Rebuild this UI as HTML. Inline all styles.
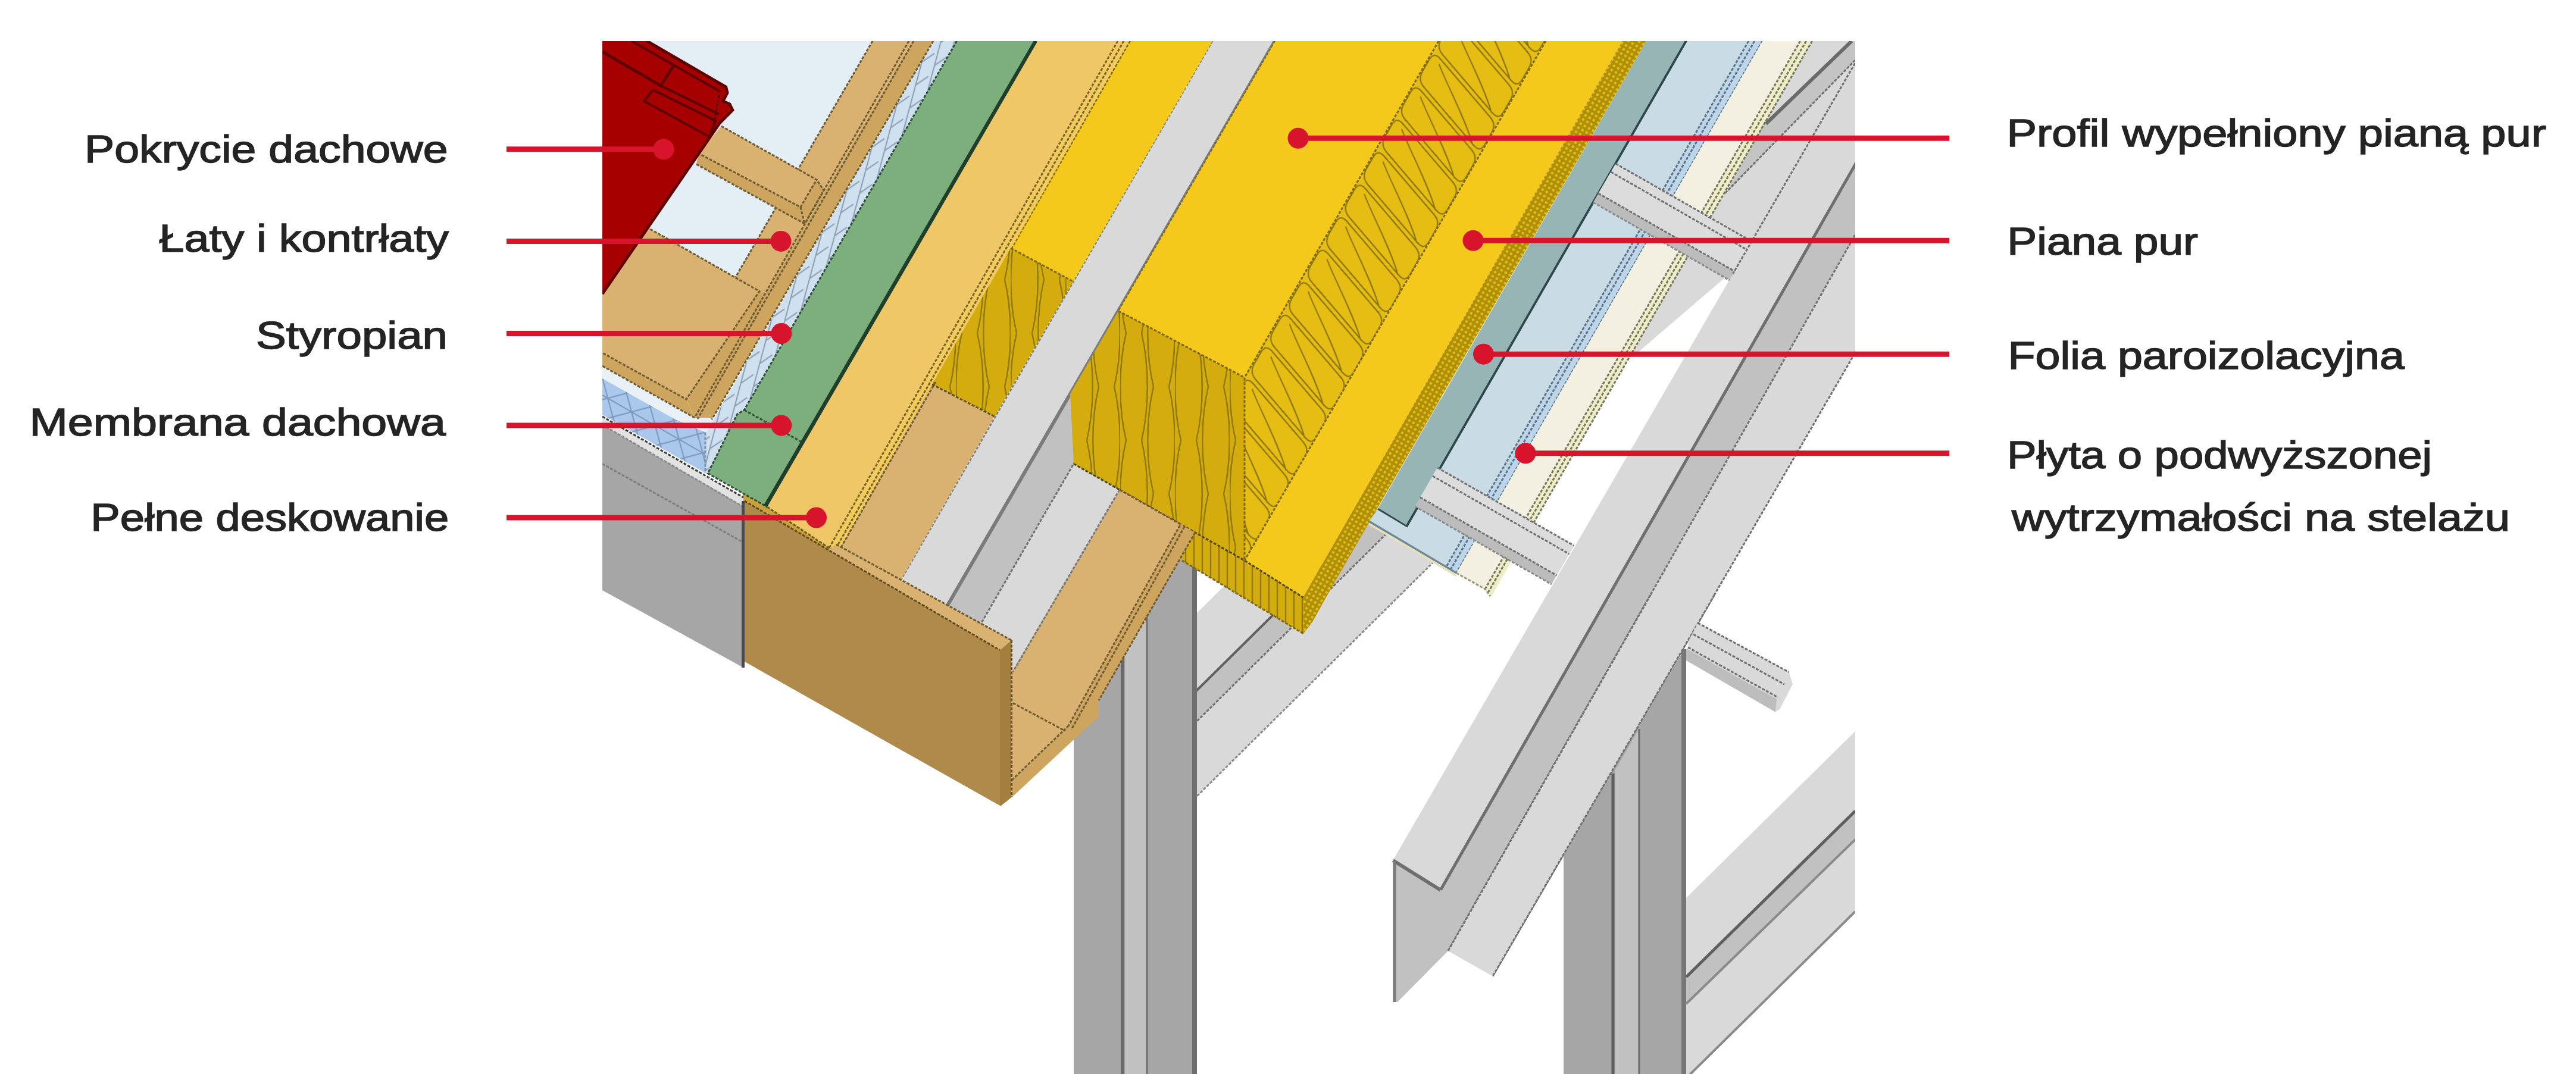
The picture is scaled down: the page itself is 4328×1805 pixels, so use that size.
<!DOCTYPE html>
<html lang="pl"><head><meta charset="utf-8"><title>Przekrój dachu</title>
<style>
html,body{margin:0;padding:0;background:#fff;}
body{width:4328px;height:1805px;overflow:hidden;position:relative;}
svg{position:absolute;left:0;top:0;display:block;}
text{font-family:"Liberation Sans",sans-serif;font-size:65px;fill:#242424;stroke:#242424;stroke-width:1.5px;}
.ld line{stroke:#d8142c;stroke-width:9;}
.ld circle{fill:#d8142c;}
</style></head><body>
<svg width="4328" height="1805" viewBox="0 0 4328 1805">
<defs>
<clipPath id="cp"><rect x="1012" y="69" width="2105" height="1736"/></clipPath>

<pattern id="hY" x="2129.7" y="0" width="156.0" height="63" patternUnits="userSpaceOnUse" patternTransform="rotate(29.9)"><path d="M2.0,-102.0 Q2.0,-118.0 17.1,-112.6 L139.0,-69.4 Q154.0,-64.0 154.0,-48.0 L154.0,-25.0 Q154.0,-9.0 139.0,-14.4 L17.1,-57.6 Q2.0,-63.0 2.0,-79.0 Z M20,-104.0 C40,-86.0 105,-46.0 137.0,-14.0 M2.0,-39.0 Q2.0,-55.0 17.1,-49.6 L139.0,-6.4 Q154.0,-1.0 154.0,15.0 L154.0,38.0 Q154.0,54.0 139.0,48.6 L17.1,5.4 Q2.0,0.0 2.0,-16.0 Z M20,-41.0 C40,-23.0 105,17.0 137.0,49.0 M2.0,24.0 Q2.0,8.0 17.1,13.4 L139.0,56.6 Q154.0,62.0 154.0,78.0 L154.0,101.0 Q154.0,117.0 139.0,111.6 L17.1,68.4 Q2.0,63.0 2.0,47.0 Z M20,22.0 C40,40.0 105,80.0 137.0,112.0 M2.0,87.0 Q2.0,71.0 17.1,76.4 L139.0,119.6 Q154.0,125.0 154.0,141.0 L154.0,164.0 Q154.0,180.0 139.0,174.6 L17.1,131.4 Q2.0,126.0 2.0,110.0 Z M20,85.0 C40,103.0 105,143.0 137.0,175.0" stroke="#8a7410" stroke-width="2.2" fill="none"/></pattern>
<pattern id="hD" x="1790" y="560" width="92" height="180" patternUnits="userSpaceOnUse">
<path d="M10,-180 C-3,-125 -3,-55 10,0 M36,-180 C49,-125 49,-55 36,0 M10,0 C-3,55 -3,125 10,180 M36,0 C49,55 49,125 36,180 M10,180 C-3,235 -3,305 10,360 M36,180 C49,235 49,305 36,360 M56,-90 C43,-35 43,35 56,90 M82,-90 C95,-35 95,35 82,90 M56,90 C43,145 43,215 56,270 M82,90 C95,145 95,215 82,270 M56,270 C43,325 43,395 56,450 M82,270 C95,325 95,395 82,450" stroke="#8f790c" stroke-width="2.4" fill="none"/>
</pattern>
<pattern id="hV" width="14" height="14" patternUnits="userSpaceOnUse">
<path d="M4,0 V14" stroke="#8f790c" stroke-width="2.4" fill="none"/>
</pattern>
<pattern id="hDot" width="8" height="8" patternUnits="userSpaceOnUse" patternTransform="rotate(30)">
<rect width="8" height="8" fill="#b08f08"/><circle cx="4" cy="4" r="2.3" fill="#e3bd18"/>
</pattern>
<pattern id="hS" width="22" height="40" patternUnits="userSpaceOnUse" patternTransform="rotate(15)">
<path d="M5,0 V40 M5,20 L22,0" stroke="#8fa2b4" stroke-width="2.2" fill="none"/>
</pattern>
<pattern id="hSE" width="46" height="46" patternUnits="userSpaceOnUse" patternTransform="rotate(30)">
<path d="M0,0 L46,46 M46,0 L0,46 M0,23 H46" stroke="#7d98bb" stroke-width="2.2" fill="none"/>
</pattern>

</defs>
<g clip-path="url(#cp)">
<polygon points="3044.6,69.0 3117.0,69.0 3117.0,470.0 2900.0,465.0 2752.0,592.0 2735.2,600.0" fill="#d9d9d9" />
<polygon points="3108.0,69.0 3117.0,69.0 3117.0,101.0 2899.0,326.0 2965.0,207.0" fill="#c4c4c4" />
<polyline points="3111.0,69.0 2967.0,208.0" fill="none" stroke="#6a6a6a" stroke-width="6" />
<polyline points="3117.0,101.0 2897.0,326.0" fill="none" stroke="#6f6f6f" stroke-width="3.0" stroke-dasharray="5 2.5"/>
<polygon points="3138.2,69.0 3235.6,69.0 2420.5,1495.5 2340.5,1445.5" fill="#d9d9d9" />
<polygon points="3235.6,69.0 3301.9,69.0 2433.0,1598.0 2348.0,1684.0 2340.5,1684.0 2340.5,1447.0 2420.5,1497.0" fill="#c1c1c1" />
<polygon points="3301.9,69.0 3421.3,69.0 2508.0,1640.5 2433.0,1598.0" fill="#d9d9d9" />
<polyline points="3301.9,69.0 2433.0,1598.0" fill="none" stroke="#6f6f6f" stroke-width="3" stroke-dasharray="5 2.5"/>
<polyline points="3421.3,69.0 2508.0,1640.5" fill="none" stroke="#6f6f6f" stroke-width="3" stroke-dasharray="5 2.5"/>
<polyline points="3235.6,69.0 2420.5,1495.5" fill="none" stroke="#6f6f6f" stroke-width="5" />
<polyline points="2340.5,1446.0 2420.5,1496.0" fill="none" stroke="#6f6f6f" stroke-width="6" />
<polyline points="2343.0,1447.0 2343.0,1684.0" fill="none" stroke="#7a7a7a" stroke-width="5" />
<polygon points="2627.0,1436.0 2627.0,1810.0 2833.0,1810.0 2833.0,1091.0 2829.6,1091.0" fill="#a6a6a6" />
<polygon points="2713.0,1295.0 2752.0,1228.0 2752.0,1810.0 2713.0,1810.0" fill="#c1c1c1" />
<polyline points="2710.0,1300.0 2710.0,1810.0" fill="none" stroke="#5f5f5f" stroke-width="5" />
<polyline points="2754.0,1225.0 2754.0,1810.0" fill="none" stroke="#6f6f6f" stroke-width="3"  />
<polyline points="2829.0,1091.0 2829.0,1810.0" fill="none" stroke="#767676" stroke-width="8" />
<polygon points="2833.0,1509.0 3117.0,1229.0 3117.0,1532.0 2833.0,1812.0" fill="#d9d9d9" />
<polygon points="2833.0,1642.0 3117.0,1363.0 3117.0,1411.0 2833.0,1687.0" fill="#c1c1c1" />
<polyline points="2833.0,1642.0 3117.0,1363.0" fill="none" stroke="#5f5f5f" stroke-width="5" />
<polyline points="2833.0,1687.0 3117.0,1411.0" fill="none" stroke="#8a8a8a" stroke-width="4" />
<polyline points="2833.0,1812.0 3117.0,1532.0" fill="none" stroke="#8a8a8a" stroke-width="4" />
<polygon points="2773.1,1000.0 2880.4,1000.0 2508.0,1640.5 2433.0,1598.0" fill="#d9d9d9" />
<polyline points="2773.1,1000.0 2433.0,1598.0" fill="none" stroke="#6f6f6f" stroke-width="3" stroke-dasharray="5 2.5"/>
<polyline points="2880.4,1000.0 2508.0,1640.5" fill="none" stroke="#6f6f6f" stroke-width="3" stroke-dasharray="5 2.5"/>
<polygon points="2852.6,1047.0 3005.7,1129.6 3012.0,1150.0 2990.0,1192.0 2982.7,1196.6 2833.0,1106.7 2838.0,1075.0" fill="#d9d9d9" />
<polygon points="2833.0,1090.0 2985.0,1175.0 2982.7,1196.6 2833.0,1110.0" fill="#bdbdbd" />
<polyline points="2852.6,1047.0 3005.7,1129.6" fill="none" stroke="#6f6f6f" stroke-width="3.0" stroke-dasharray="5 2.5"/>
<polyline points="2845.0,1066.0 2998.0,1150.0" fill="none" stroke="#6f6f6f" stroke-width="3.0" stroke-dasharray="5 2.5"/>
<polyline points="2836.0,1088.0 2987.0,1172.0" fill="none" stroke="#6f6f6f" stroke-width="3.0" stroke-dasharray="5 2.5"/>
<polygon points="2006.0,1035.0 2420.0,625.1 2420.0,933.1 2006.0,1343.0" fill="#d9d9d9" />
<polygon points="2006.0,1165.0 2420.0,755.1 2420.0,807.1 2006.0,1217.0" fill="#c1c1c1" />
<polyline points="2006.0,1165.0 2420.0,755.1" fill="none" stroke="#5f5f5f" stroke-width="4" />
<polyline points="2006.0,1217.0 2420.0,807.1" fill="none" stroke="#6f6f6f" stroke-width="3" stroke-dasharray="5 2.5"/>
<polyline points="2006.0,1343.0 2420.0,933.1" fill="none" stroke="#8a8a8a" stroke-width="3" stroke-dasharray="5 2.5"/>
<polygon points="1804.0,700.0 2008.0,700.0 2008.0,1810.0 1804.0,1810.0" fill="#a6a6a6" />
<polygon points="1890.0,700.0 1925.0,700.0 1925.0,1810.0 1890.0,1810.0" fill="#c1c1c1" />
<polyline points="1886.0,700.0 1886.0,1810.0" fill="none" stroke="#6a6a6a" stroke-width="6" />
<polyline points="1927.0,700.0 1927.0,1810.0" fill="none" stroke="#6f6f6f" stroke-width="3"  />
<polyline points="2007.0,700.0 2007.0,1810.0" fill="none" stroke="#6f6f6f" stroke-width="8" />
<polygon points="2037.0,69.0 2142.0,69.0 1576.5,1044.0 1499.5,999.0" fill="#d9d9d9" />
<polygon points="1892.0,500.0 1966.0,500.0 1631.7,1076.4 1576.5,1044.0" fill="#c1c1c1" />
<polygon points="1966.0,500.0 2073.0,500.0 1700.0,1140.0 1700.0,1104.4 1631.7,1076.4" fill="#d9d9d9" />
<polyline points="2037.0,69.0 1504.7,990.0" fill="none" stroke="#7d7d7d" stroke-width="3" stroke-dasharray="5 2.5"/>
<polyline points="2142.0,69.0 1581.7,1035.1" fill="none" stroke="#7b7b7b" stroke-width="6" />
<polyline points="1908.0,600.0 1636.9,1067.4" fill="none" stroke="#6f6f6f" stroke-width="3" stroke-dasharray="5 2.5"/>
<polygon points="1012.0,69.0 1480.0,69.0 1150.0,650.0 1012.0,650.0" fill="#e3eef5" />
<polygon points="1466.0,69.0 1533.0,69.0 1200.7,640.0 1134.8,640.0" fill="#d9b272" />
<polygon points="1533.0,69.0 1568.0,69.0 1197.7,702.0 1164.6,702.0" fill="#cda55f" />
<polyline points="1466.0,69.0 1235.2,467.0" fill="none" stroke="#6e5a33" stroke-width="3.0" stroke-dasharray="5 2.5"/>
<polygon points="1012.0,636.0 1135.0,705.0 1187.0,727.0 1187.0,796.0 1012.0,697.0" fill="#a9c8ec" />
<polygon points="1012.0,636.0 1135.0,705.0 1187.0,727.0 1187.0,796.0 1012.0,697.0" fill="url(#hSE)" />
<polygon points="1568.0,69.0 1607.5,69.0 1250.4,689.0 1238.4,696.4 1189.3,797.0 1185.0,794.0 1185.0,727.0 1200.0,703.0" fill="#cfe0f1" />
<polygon points="1568.0,69.0 1607.5,69.0 1250.4,689.0 1238.4,696.4 1189.3,797.0 1185.0,794.0 1185.0,727.0 1200.0,703.0" fill="url(#hS)" />
<polyline points="1185.0,727.0 1185.0,794.0" fill="none" stroke="#7f93a8" stroke-width="3" stroke-dasharray="5 2.5"/>
<polygon points="1012.0,614.0 1166.0,702.0 1201.0,702.0 1187.0,727.0 1135.0,705.0 1012.0,636.0" fill="#e9f1f7" />
<polygon points="1012.0,340.0 1092.5,385.0 1276.0,489.5 1153.0,671.0 1012.0,593.0" fill="#d9b272" />
<polygon points="1012.0,593.0 1153.0,671.0 1167.0,702.0 1012.0,615.0" fill="#cda55f" />
<polygon points="1276.0,489.5 1288.0,494.0 1167.0,702.0 1153.0,671.0" fill="#cda55f" />
<polyline points="1092.5,385.0 1276.0,489.5 1153.0,671.0 1012.0,593.0" fill="none" stroke="#6e5a33" stroke-width="3.0" stroke-dasharray="5 2.5"/>
<polyline points="1167.0,702.0 1012.0,615.0" fill="none" stroke="#6e5a33" stroke-width="3.0" stroke-dasharray="5 2.5"/>
<polygon points="1212.0,212.0 1372.0,302.0 1345.0,348.0 1174.0,258.0" fill="#d9b272" />
<polygon points="1174.0,258.0 1345.0,348.0 1352.0,376.0 1170.0,276.0" fill="#cda55f" />
<polygon points="1345.0,348.0 1372.0,302.0 1384.0,320.0 1356.0,372.0" fill="#cda55f" />
<polyline points="1212.0,212.0 1372.0,302.0 1345.0,348.0 1174.0,258.0" fill="none" stroke="#6e5a33" stroke-width="3.0" stroke-dasharray="5 2.5"/>
<polyline points="1170.0,276.0 1352.0,376.0 1384.0,320.0 1372.0,302.0" fill="none" stroke="#6e5a33" stroke-width="3.0" stroke-dasharray="5 2.5"/>
<polyline points="1345.0,348.0 1352.0,376.0" fill="none" stroke="#6e5a33" stroke-width="3.0" stroke-dasharray="5 2.5"/>
<polyline points="1527.0,69.0 1167.0,702.0" fill="none" stroke="#6e5a33" stroke-width="3.0" stroke-dasharray="5 2.5"/>
<polyline points="1535.0,69.0 1172.0,704.0" fill="none" stroke="#6e5a33" stroke-width="3.0" stroke-dasharray="5 2.5"/>
<polyline points="1568.0,69.0 1195.9,705.0" fill="none" stroke="#6e5a33" stroke-width="3.0" stroke-dasharray="5 2.5"/>
<polygon points="1012.0,69.0 1087.0,69.0 1219.6,146.0 1222.0,156.0 1214.6,170.0 1225.8,175.0 1230.8,185.0 1209.0,207.0 1012.0,494.0" fill="#a60000" />
<polyline points="1087.0,69.0 1219.6,146.0 1222.0,156.0 1214.6,170.0 1225.8,175.0 1230.8,185.0 1209.0,207.0 1012.0,494.0" fill="none" stroke="#5c0000" stroke-width="5" />
<polyline points="1061.0,69.0 1210.0,154.0" fill="none" stroke="#5c0000" stroke-width="4" />
<polyline points="1012.0,87.0 1110.0,144.0 1132.0,110.0" fill="none" stroke="#5c0000" stroke-width="5" />
<polyline points="1097.0,151.0 1202.0,203.0 1192.0,230.0 1082.0,170.0 1097.0,151.0" fill="none" stroke="#5c0000" stroke-width="4" />
<polyline points="1110.0,144.0 1208.0,192.0" fill="none" stroke="#5c0000" stroke-width="4" />
<polyline points="1208.0,160.0 1196.0,226.0" fill="none" stroke="#5c0000" stroke-width="3" stroke-dasharray="5 2.5"/>
<polygon points="1248.0,824.0 1415.0,920.0 1415.0,945.0 1248.0,850.0" fill="#c9a23a" />
<polygon points="1607.5,69.0 1743.5,69.0 1289.0,852.0 1189.3,795.6 1238.4,696.4 1250.4,689.0" fill="#7dae7d" />
<polyline points="1607.5,69.0 1250.4,689.0 1238.4,696.4 1189.3,795.6 1289.0,852.0" fill="none" stroke="#2d5137" stroke-width="3" stroke-dasharray="5 2.5"/>
<polyline points="1250.4,689.0 1349.0,744.0" fill="none" stroke="#2d5137" stroke-width="3" stroke-dasharray="5 2.5"/>
<polyline points="1740.5,69.0 1286.0,851.0" fill="none" stroke="#1f3f2a" stroke-width="7" />
<polygon points="1743.5,69.0 1878.0,69.0 1393.0,921.0 1289.0,852.0" fill="#f0c766" />
<polygon points="1878.0,69.0 1899.0,69.0 1415.0,917.0 1407.0,925.5 1393.0,921.0" fill="#f2cb5e" />
<polyline points="1878.0,69.0 1393.0,921.0" fill="none" stroke="#7a6325" stroke-width="3.0" stroke-dasharray="5 2.5"/>
<polyline points="1888.0,69.0 1403.0,924.0" fill="none" stroke="#7a6325" stroke-width="3.0" stroke-dasharray="5 2.5"/>
<polyline points="1899.0,69.0 1415.0,917.0" fill="none" stroke="#7a6325" stroke-width="3.0" stroke-dasharray="5 2.5"/>
<polyline points="1289.0,852.0 1393.0,921.0 1407.0,925.5" fill="none" stroke="#6a5a25" stroke-width="3" stroke-dasharray="5 2.5"/>
<polygon points="1899.0,69.0 2037.0,69.0 1803.0,473.0 1698.0,417.0" fill="#f5c91b" />
<polygon points="1698.0,417.0 1803.0,473.0 1671.0,700.0 1566.0,646.0" fill="#d4ac0d" />
<polygon points="1698.0,417.0 1803.0,473.0 1671.0,700.0 1566.0,646.0" fill="url(#hD)" />
<polygon points="1566.0,646.0 1671.0,700.0 1499.5,999.0 1401.0,941.2" fill="#d9b272" />
<polyline points="1698.0,417.0 1803.0,473.0" fill="none" stroke="#7d6a10" stroke-width="3.0" stroke-dasharray="5 2.5"/>
<polyline points="1566.0,646.0 1671.0,700.0" fill="none" stroke="#5d5122" stroke-width="3" stroke-dasharray="5 2.5"/>
<polyline points="1571.8,642.0 1406.1,932.2" fill="none" stroke="#6e5a33" stroke-width="3.0" stroke-dasharray="5 2.5"/>
<polygon points="2142.0,69.0 2417.0,69.0 2091.0,634.5 1879.0,522.5" fill="#f5c91b" />
<polygon points="2417.0,69.0 2597.0,69.0 2091.0,942.0 2091.0,634.5" fill="#e6bd12" />
<polygon points="2417.0,69.0 2597.0,69.0 2091.0,942.0 2091.0,634.5" fill="url(#hY)" />
<polygon points="2597.0,69.0 2725.5,69.0 2189.4,1004.0 2091.0,942.0" fill="#f5c91b" />
<polygon points="2725.5,69.0 2766.0,69.0 2234.0,993.0 2205.0,1045.0 2190.0,1065.0 2189.4,1004.0" fill="url(#hDot)" />
<polygon points="1879.0,522.5 2091.0,634.5 2091.0,942.0 1804.0,779.5 1798.0,662.0" fill="#d4ac0d" />
<polygon points="1879.0,522.5 2091.0,634.5 2091.0,942.0 1804.0,779.5 1798.0,662.0" fill="url(#hD)" />
<polygon points="1986.0,882.0 2091.0,942.0 2189.4,1004.0 2190.0,1065.0 1986.0,942.0" fill="#d4ac0d" />
<polygon points="1986.0,882.0 2091.0,942.0 2189.4,1004.0 2190.0,1065.0 1986.0,942.0" fill="url(#hV)" />
<polyline points="1879.0,522.5 2091.0,634.5 2091.0,942.0" fill="none" stroke="#7d6a10" stroke-width="3" stroke-dasharray="5 2.5"/>
<polyline points="1804.0,779.5 2091.0,942.0 2189.4,1004.0" fill="none" stroke="#4f4510" stroke-width="3" stroke-dasharray="5 2.5"/>
<polyline points="1986.0,942.0 2190.0,1065.0" fill="none" stroke="#7d6a10" stroke-width="3.0" stroke-dasharray="5 2.5"/>
<polyline points="2417.0,69.0 2091.0,634.5" fill="none" stroke="#7d6a10" stroke-width="3.0" stroke-dasharray="5 2.5"/>
<polyline points="2597.0,69.0 2091.0,942.0" fill="none" stroke="#7d6a10" stroke-width="3.0" stroke-dasharray="5 2.5"/>
<polyline points="1899.0,69.0 1700.3,417.0" fill="none" stroke="#7d6a10" stroke-width="2" stroke-dasharray="5 2.5"/>
<polyline points="2142.0,69.0 1879.3,522.0" fill="none" stroke="#7d6a10" stroke-width="2" stroke-dasharray="5 2.5"/>
<polygon points="2766.0,69.0 2835.0,69.0 2364.4,886.4 2314.3,856.5" fill="#97b5b5" />
<polyline points="2834.0,69.0 2363.4,886.4 2314.3,856.5" fill="none" stroke="#2f474c" stroke-width="6" />
<polygon points="2835.0,69.0 2961.2,69.0 2447.0,963.0 2300.0,876.0 2314.3,856.5 2364.4,886.4" fill="#c9dce6" />
<polygon points="2937.8,69.0 2961.2,69.0 2447.0,963.0 2429.7,952.7" fill="#bdd5e8" />
<polyline points="2937.8,69.0 2429.7,952.7" fill="none" stroke="#5b7384" stroke-width="3.0" stroke-dasharray="5 2.5"/>
<polyline points="2947.8,69.0 2437.2,957.2" fill="none" stroke="#5b7384" stroke-width="3.0" stroke-dasharray="5 2.5"/>
<polyline points="2961.2,69.0 2447.0,963.0" fill="none" stroke="#5b6f7a" stroke-width="3.0" stroke-dasharray="5 2.5"/>
<polyline points="2300.0,876.0 2447.0,963.0" fill="none" stroke="#6f8797" stroke-width="3.2" />
<polyline points="2300.0,880.5 2447.0,967.5" fill="none" stroke="#e6e0b8" stroke-width="3.2" />
<polygon points="2961.2,69.0 3024.6,69.0 2495.0,990.0 2447.0,963.0" fill="#f3f0e1" />
<polygon points="3024.6,69.0 3044.6,69.0 2540.0,942.0 2506.0,1002.0 2495.0,990.0" fill="#efecc8" />
<polyline points="3024.6,69.0 2495.0,990.0" fill="none" stroke="#75755f" stroke-width="3.0" stroke-dasharray="5 2.5"/>
<polyline points="3034.6,69.0 2500.0,996.0" fill="none" stroke="#75755f" stroke-width="3.0" stroke-dasharray="5 2.5"/>
<polyline points="3044.6,69.0 2540.0,942.0" fill="none" stroke="#75755f" stroke-width="3.0" stroke-dasharray="5 2.5"/>
<polyline points="2447.0,963.0 2495.0,990.0 2504.0,1002.0" fill="none" stroke="#9a9a70" stroke-width="3.0" stroke-dasharray="5 2.5"/>
<polygon points="2714.5,275.0 2943.5,406.0 2905.8,471.0 2676.8,340.0" fill="#bcbcbc" />
<polygon points="2714.5,275.0 2943.5,406.0 2914.5,456.0 2685.5,325.0" fill="#dcdcdc" />
<polyline points="2714.5,275.0 2943.5,406.0" fill="none" stroke="#6f6f6f" stroke-width="3.0" stroke-dasharray="5 2.5"/>
<polyline points="2706.5,289.0 2935.5,420.0" fill="none" stroke="#6f6f6f" stroke-width="3.0" stroke-dasharray="5 2.5"/>
<polyline points="2685.5,325.0 2914.5,456.0" fill="none" stroke="#6f6f6f" stroke-width="3.0" stroke-dasharray="5 2.5"/>
<polyline points="2676.8,340.0 2905.8,471.0" fill="none" stroke="#8a8a8a" stroke-width="3.0" stroke-dasharray="5 2.5"/>
<polygon points="2415.0,786.0 2644.5,917.0 2606.8,982.0 2377.3,851.0" fill="#bcbcbc" />
<polygon points="2415.0,786.0 2644.5,917.0 2615.5,967.0 2386.0,836.0" fill="#dcdcdc" />
<polyline points="2415.0,786.0 2644.5,917.0" fill="none" stroke="#6f6f6f" stroke-width="3.0" stroke-dasharray="5 2.5"/>
<polyline points="2407.0,800.0 2636.5,931.0" fill="none" stroke="#6f6f6f" stroke-width="3.0" stroke-dasharray="5 2.5"/>
<polyline points="2386.0,836.0 2615.5,967.0" fill="none" stroke="#6f6f6f" stroke-width="3.0" stroke-dasharray="5 2.5"/>
<polyline points="2377.3,851.0 2606.8,982.0" fill="none" stroke="#8a8a8a" stroke-width="3.0" stroke-dasharray="5 2.5"/>
<polyline points="3120.3,100.0 2911.5,460.0" fill="none" stroke="#6f6f6f" stroke-width="3.0" stroke-dasharray="5 2.5"/>
<polygon points="1881.0,823.0 1983.5,881.0 1795.0,1220.0 1700.0,1311.0 1700.0,1129.0" fill="#d9b272" />
<polygon points="1983.5,881.0 2008.0,895.0 1846.0,1177.0 1846.0,1204.0 1700.0,1340.0 1700.0,1311.0 1795.0,1220.0" fill="#cda55f" />
<polyline points="1881.0,823.0 1983.5,881.0 1795.0,1220.0" fill="none" stroke="#6e5a33" stroke-width="3.0" stroke-dasharray="5 2.5"/>
<polyline points="1990.0,885.0 1800.0,1226.0" fill="none" stroke="#6e5a33" stroke-width="3.0" stroke-dasharray="5 2.5"/>
<polyline points="2008.0,895.0 1846.0,1177.0" fill="none" stroke="#6e5a33" stroke-width="3.0" stroke-dasharray="5 2.5"/>
<polyline points="1702.0,1181.7 1790.0,1228.5" fill="none" stroke="#6e5a33" stroke-width="3.0" stroke-dasharray="5 2.5"/>
<polyline points="1700.0,1311.0 1795.0,1220.0" fill="none" stroke="#6e5a33" stroke-width="3.0" stroke-dasharray="5 2.5"/>
<polyline points="1881.0,823.0 1702.0,1129.0" fill="none" stroke="#777" stroke-width="3" stroke-dasharray="5 2.5"/>
<polygon points="1012.0,701.0 1249.0,837.0 1249.0,851.0 1012.0,714.0" fill="#e2e2e2" />
<polygon points="1012.0,714.0 1249.0,851.0 1249.0,1122.0 1012.0,992.0" fill="#a6a6a6" />
<polyline points="1012.0,700.0 1249.0,836.0" fill="none" stroke="#3a3a3a" stroke-width="3" stroke-dasharray="5 2.5"/>
<polyline points="1012.0,714.0 1247.5,851.0" fill="none" stroke="#8a8a8a" stroke-width="3.0" stroke-dasharray="5 2.5"/>
<polyline points="1012.0,779.5 1245.0,909.5" fill="none" stroke="#7d7d7d" stroke-width="3.0" stroke-dasharray="5 2.5"/>
<polyline points="1248.5,842.0 1248.5,1122.0" fill="none" stroke="#4a4a4a" stroke-width="5" />
<polygon points="1392.0,925.0 1405.0,915.0 1699.5,1076.0 1680.0,1092.7" fill="#d9b272" />
<polygon points="1251.0,842.0 1680.0,1092.7 1680.0,1354.0 1251.0,1112.0" fill="#b08a4a" />
<polygon points="1680.0,1092.7 1699.5,1076.0 1699.5,1340.0 1682.0,1354.0 1680.0,1354.0" fill="#a37e3f" />
<polyline points="1251.0,842.0 1680.0,1092.7" fill="none" stroke="#5f4a22" stroke-width="3" stroke-dasharray="5 2.5"/>
<polyline points="1405.0,915.0 1699.5,1076.0" fill="none" stroke="#6e5a33" stroke-width="3.0" stroke-dasharray="5 2.5"/>
<polyline points="1699.5,1076.0 1699.5,1340.0" fill="none" stroke="#5f4a22" stroke-width="3" stroke-dasharray="5 2.5"/>
</g>
<g class="ld">
<line x1="851" y1="250.8" x2="1115.0" y2="250.8"/>
<circle cx="1115.0" cy="250.8" r="17.5"/>
<line x1="851" y1="405.4" x2="1312.0" y2="405.4"/>
<circle cx="1312.0" cy="405.4" r="17.5"/>
<line x1="851" y1="560.5" x2="1312.8" y2="560.5"/>
<circle cx="1312.8" cy="560.5" r="17.5"/>
<line x1="851" y1="715.0" x2="1312.8" y2="715.0"/>
<circle cx="1312.8" cy="715.0" r="17.5"/>
<line x1="851" y1="870.0" x2="1371.5" y2="870.0"/>
<circle cx="1371.5" cy="870.0" r="17.5"/>
<line x1="3275" y1="232.3" x2="2181.0" y2="232.3"/>
<circle cx="2181.0" cy="232.3" r="17.5"/>
<line x1="3275" y1="404.3" x2="2475.0" y2="404.3"/>
<circle cx="2475.0" cy="404.3" r="17.5"/>
<line x1="3275" y1="595.2" x2="2492.5" y2="595.2"/>
<circle cx="2492.5" cy="595.2" r="17.5"/>
<line x1="3275" y1="761.8" x2="2563.0" y2="761.8"/>
<circle cx="2563.0" cy="761.8" r="17.5"/>
</g>
<g>
<text x="142.0" y="272.8" textLength="610.5" lengthAdjust="spacingAndGlyphs">Pokrycie dachowe</text>
<text x="267.5" y="423.0" textLength="486.5" lengthAdjust="spacingAndGlyphs">Łaty i kontrłaty</text>
<text x="430.0" y="586.4" textLength="322.0" lengthAdjust="spacingAndGlyphs">Styropian</text>
<text x="49.5" y="731.7" textLength="699.5" lengthAdjust="spacingAndGlyphs">Membrana dachowa</text>
<text x="152.3" y="892.3" textLength="601.9" lengthAdjust="spacingAndGlyphs">Pełne deskowanie</text>
<text x="3371.5" y="246.3" textLength="906.5" lengthAdjust="spacingAndGlyphs">Profil wypełniony pianą pur</text>
<text x="3372.3" y="427.9" textLength="320.7" lengthAdjust="spacingAndGlyphs">Piana pur</text>
<text x="3373.5" y="620.1" textLength="666.5" lengthAdjust="spacingAndGlyphs">Folia paroizolacyjna</text>
<text x="3372.0" y="786.9" textLength="714.0" lengthAdjust="spacingAndGlyphs">Płyta o podwyższonej</text>
<text x="3380.0" y="891.7" textLength="837.0" lengthAdjust="spacingAndGlyphs">wytrzymałości na stelażu</text>
</g>
</svg>
</body></html>
